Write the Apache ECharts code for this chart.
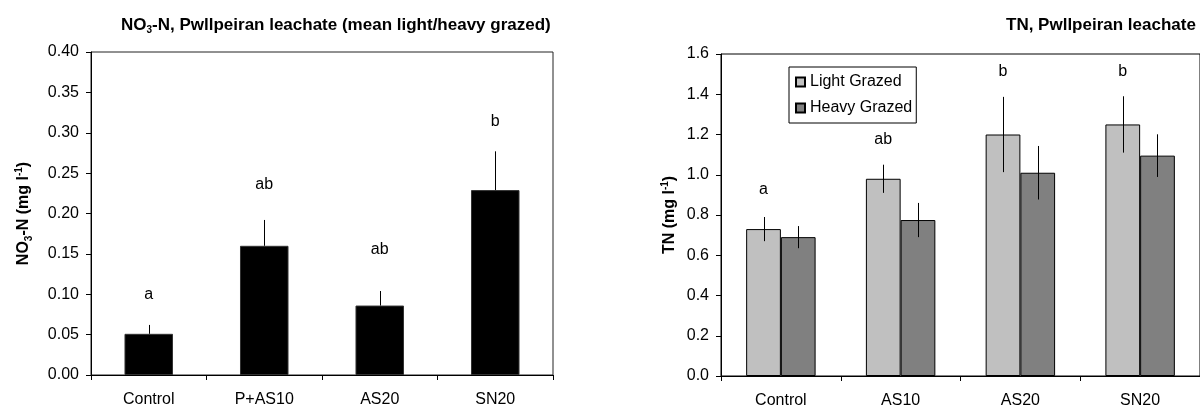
<!DOCTYPE html>
<html>
<head>
<meta charset="utf-8">
<script src="https://cdn.jsdelivr.net/npm/echarts/dist/echarts.min.js"></script>
<style>
  html, body { margin: 0; padding: 0; background: #fff; }
  #chart { width: 1200px; height: 412px; }
</style>
</head>
<body>
<div id="chart"></div>
<script>
// ===== 数据 =====
var no3Cats = ['Control', 'P+AS10', 'AS20', 'SN20'];
var no3Mean = [0.051, 0.160, 0.086, 0.229];
var no3Err = [0.011, 0.032, 0.018, 0.048];
var no3Letters = ['a', 'ab', 'ab', 'b'];
var no3LetterY = [0.100, 0.236, 0.155, 0.314];

var tnCats = ['Control', 'AS10', 'AS20', 'SN20'];
var tnLight = [0.73, 0.98, 1.20, 1.25];
var tnLightErr = [0.060, 0.070, 0.187, 0.140];
var tnHeavy = [0.69, 0.775, 1.01, 1.095];
var tnHeavyErr = [0.055, 0.085, 0.133, 0.106];
var tnLetters = ['a', 'ab', 'b', 'b'];
var tnLetterY = [0.924, 1.176, 1.512, 1.512];

var FONT = '"Liberation Sans", Arial, sans-serif';

// 误差线（竖线，无横帽）
function errorBar(shift, upperOnly) {
  return function (params, api) {
    var i = api.value(0), v = api.value(1), e = api.value(2);
    var band = api.size([1, 0])[0];
    var hi = api.coord([i, v + e]);
    var lo = api.coord([i, upperOnly ? v : v - e]);
    var x = Math.round(hi[0] + shift * band) + 0.5;
    return {
      type: 'line',
      shape: { x1: x, y1: hi[1], x2: x, y2: lo[1] },
      style: { stroke: '#000', lineWidth: 1 }
    };
  };
}

// 显著性字母
function letterMark(letters, shift) {
  return function (params, api) {
    var band = api.size([1, 0])[0];
    var p = api.coord([api.value(0), api.value(1)]);
    return {
      type: 'text',
      x: p[0] + shift * band,
      y: p[1],
      style: {
        text: letters[params.dataIndex],
        fill: '#000',
        font: '16px ' + FONT,
        align: 'center',
        verticalAlign: 'middle'
      }
    };
  };
}

function withIndex(vals, errs) {
  return vals.map(function (v, i) { return [i, v, errs[i]]; });
}
function letterData(ys) {
  return ys.map(function (y, i) { return [i, y]; });
}

var axisText = { color: '#000', fontSize: 16, fontFamily: FONT };
var nameRich = {
  s: { fontSize: 10, fontWeight: 'bold', fontFamily: FONT, verticalAlign: 'bottom', lineHeight: 10 },
  u: { fontSize: 10, fontWeight: 'bold', fontFamily: FONT, verticalAlign: 'top', lineHeight: 10 }
};

function catAxis(idx, cats) {
  return {
    type: 'category',
    gridIndex: idx,
    data: cats,
    axisLine: { lineStyle: { color: '#000', width: 1 } },
    axisTick: { show: true, length: 5, lineStyle: { color: '#000' } },
    axisLabel: Object.assign({ margin: 17 }, axisText)
  };
}

function valAxis(idx, max, step, digits, name, gap) {
  return {
    type: 'value',
    gridIndex: idx,
    min: 0,
    max: max,
    interval: step,
    name: name,
    nameLocation: 'middle',
    nameGap: gap,
    nameTextStyle: {
      color: '#000', fontSize: 16, fontWeight: 'bold', fontFamily: FONT,
      lineHeight: 20, rich: nameRich
    },
    splitLine: { show: false },
    axisLine: { show: true, lineStyle: { color: '#000', width: 1 } },
    axisTick: { show: true, length: 5, lineStyle: { color: '#000' } },
    axisLabel: Object.assign({
      margin: 12,
      formatter: function (v) { return v.toFixed(digits); }
    }, axisText)
  };
}

var chart = echarts.init(document.getElementById('chart'));

var option = {
  backgroundColor: '#fff',
  animation: false,
  title: [
    {
      text: 'NO{s|3}-N, Pwllpeiran leachate (mean light/heavy grazed)',
      left: 116,
      top: 10,
      textStyle: {
        color: '#000', fontSize: 17, fontWeight: 'bold', fontFamily: FONT,
        lineHeight: 20, rich: nameRich
      }
    },
    {
      text: 'TN, Pwllpeiran leachate',
      left: 1001,
      top: 10,
      textStyle: { color: '#000', fontSize: 17, fontWeight: 'bold', fontFamily: FONT, lineHeight: 20 }
    }
  ],
  legend: {
    data: ['Light Grazed', 'Heavy Grazed'],
    orient: 'vertical',
    left: 789,
    top: 67,
    icon: 'rect',
    itemWidth: 9,
    itemHeight: 9,
    itemGap: 10,
    padding: [7, 4, 7, 6],
    borderColor: '#000',
    borderWidth: 1,
    textStyle: { color: '#000', fontSize: 16, fontFamily: FONT }
  },
  grid: [
    { left: 91, top: 52, width: 462, height: 323, show: true, borderColor: '#222', borderWidth: 1 },
    { left: 721, top: 54, width: 482, height: 322, show: true, borderColor: '#000', borderWidth: 1 }
  ],
  xAxis: [catAxis(0, no3Cats), catAxis(1, tnCats)],
  yAxis: [
    valAxis(0, 0.4, 0.05, 2, 'NO{s|3}-N (mg l{u|-1})', 57),
    valAxis(1, 1.6, 0.2, 1, 'TN (mg l{u|-1})', 41)
  ],
  series: [
    {
      name: 'NO3-N',
      type: 'bar',
      xAxisIndex: 0, yAxisIndex: 0,
      data: no3Mean,
      barCategoryGap: '58%',
      itemStyle: { color: '#000', borderColor: '#333', borderWidth: 1 }
    },
    {
      type: 'custom',
      xAxisIndex: 0, yAxisIndex: 0,
      renderItem: errorBar(0, true),
      data: withIndex(no3Mean, no3Err),
      encode: { x: 0, y: 1 },
      z: 3
    },
    {
      type: 'custom',
      xAxisIndex: 0, yAxisIndex: 0,
      renderItem: letterMark(no3Letters, 0),
      data: letterData(no3LetterY),
      encode: { x: 0, y: 1 },
      z: 3
    },
    {
      name: 'Light Grazed',
      type: 'bar',
      xAxisIndex: 1, yAxisIndex: 1,
      data: tnLight,
      barGap: '0%',
      barCategoryGap: '42%',
      itemStyle: { color: '#c0c0c0', borderColor: '#000', borderWidth: 1 }
    },
    {
      name: 'Heavy Grazed',
      type: 'bar',
      xAxisIndex: 1, yAxisIndex: 1,
      data: tnHeavy,
      barGap: '0%',
      barCategoryGap: '42%',
      itemStyle: { color: '#808080', borderColor: '#000', borderWidth: 1 }
    },
    {
      type: 'custom',
      xAxisIndex: 1, yAxisIndex: 1,
      renderItem: errorBar(-0.145, false),
      data: withIndex(tnLight, tnLightErr),
      encode: { x: 0, y: 1 },
      z: 3
    },
    {
      type: 'custom',
      xAxisIndex: 1, yAxisIndex: 1,
      renderItem: errorBar(0.145, false),
      data: withIndex(tnHeavy, tnHeavyErr),
      encode: { x: 0, y: 1 },
      z: 3
    },
    {
      type: 'custom',
      xAxisIndex: 1, yAxisIndex: 1,
      renderItem: letterMark(tnLetters, -0.145),
      data: letterData(tnLetterY),
      encode: { x: 0, y: 1 },
      z: 3
    }
  ]
};

chart.setOption(option);
</script>
</body>
</html>
